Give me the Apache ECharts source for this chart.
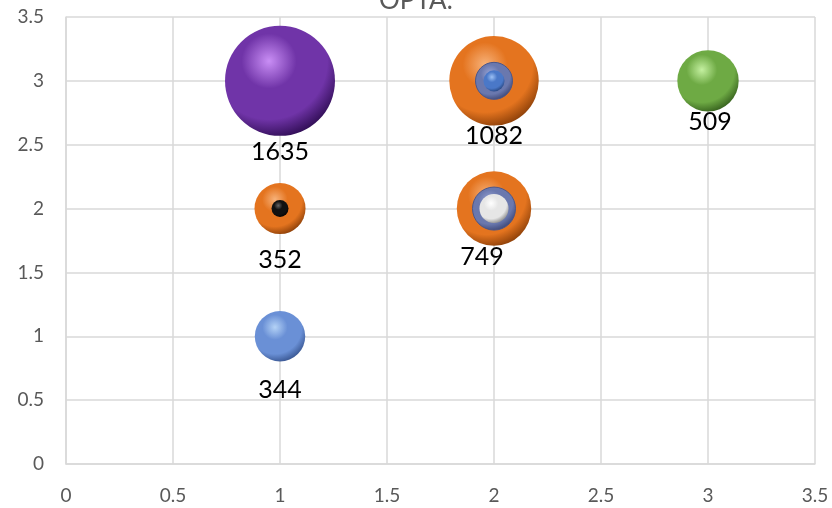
<!DOCTYPE html>
<html>
<head>
<meta charset="utf-8">
<script src="https://cdn.jsdelivr.net/npm/echarts@6/dist/echarts.min.js"></script>
<style>
html, body { margin: 0; padding: 0; background: #fff; }
#main { width: 832px; height: 508px; }
</style>
</head>
<body>
<div id="main"></div>
<script>
var chart = echarts.init(document.getElementById('main'));

// outer bubbles (labelled)
var bigX = [1, 2, 3, 1, 2, 1];
var bigY = [3, 3, 3, 2, 2, 1];
var bigV = [1635, 1082, 509, 352, 749, 344];
// middle ring bubbles
var ringX = [2, 2];
var ringY = [3, 2];
var ringV = [185, 250];
// small core bubbles
var coreX = [2, 2, 1];
var coreY = [3, 2, 2];
var coreV = [60, 114, 39];
var tickVals = [0, 0.5, 1, 1.5, 2, 2.5, 3, 3.5];

var K = 2.72;
function sz(d) { return Math.sqrt(d[2]) * K; }

function ball(hi, mid, lo) {
  return new echarts.graphic.RadialGradient(0.4, 0.32, 0.78, [
    {offset: 0, color: hi},
    {offset: 0.32, color: mid},
    {offset: 0.68, color: mid},
    {offset: 0.92, color: lo},
    {offset: 1, color: lo}
  ]);
}

var bigColors = [
  ball('#c98ef5', '#7034a8', '#2e0c52'),
  ball('#f7b27a', '#e4741f', '#8a3e08'),
  ball('#c4f0a0', '#6eaa44', '#345e1c'),
  ball('#f7b27a', '#e4741f', '#8a3e08'),
  ball('#f7b27a', '#e4741f', '#8a3e08'),
  ball('#b4d2f6', '#6a90d6', '#36538e')
];
// label offsets (below bubble)
var labOff = [[0, 71], [0, 55], [2, 41], [0, 51], [-12, 48], [0, 54]];

var bigData = bigV.map(function (v, i) {
  return {
    value: [bigX[i], bigY[i], v],
    itemStyle: {color: bigColors[i], opacity: 1},
    label: {offset: labOff[i]}
  };
});
var ringData = ringV.map(function (v, i) { return [ringX[i], ringY[i], v]; });
var coreColors = [
  ball('#9cc0f4', '#4a78c8', '#27457f'),
  ball('#ffffff', '#e6e6e6', '#8a8a8a'),
  ball('#666666', '#111111', '#000000')
];
var coreData = coreV.map(function (v, i) {
  return {value: [coreX[i], coreY[i], v], itemStyle: {color: coreColors[i], opacity: 1}};
});

var axisCommon = {
  type: 'value',
  min: 0,
  max: 3.5,
  interval: 0.5,
  axisLine: {show: true, lineStyle: {color: '#d9d9d9', width: 1.5}},
  axisTick: {show: false},
  splitLine: {show: true, lineStyle: {color: '#d9d9d9', width: 1.5}},
  axisLabel: {color: '#595959', fontSize: 19, fontFamily: 'Lato', margin: 22,
    formatter: function (v) { return tickVals.indexOf(v) >= 0 ? String(v) : ''; }}
};

var option = {
  animation: false,
  title: {
    text: 'ОРТА:',
    left: 'center',
    top: -17,
    textStyle: {fontSize: 26, fontWeight: 'normal', color: '#595959', fontFamily: 'Lato'}
  },
  grid: {left: 66, right: 17, top: 17, bottom: 44},
  xAxis: Object.assign({}, axisCommon),
  yAxis: Object.assign({}, axisCommon),
  series: [
    {
      type: 'scatter',
      symbolSize: sz,
      data: bigData,
      itemStyle: {opacity: 1},
      label: {
        show: true,
        position: 'inside',
        formatter: function (p) { return p.value[2]; },
        color: '#000',
        fontSize: 25,
        fontFamily: 'Lato'
      },
      z: 2
    },
    {
      type: 'scatter',
      symbolSize: sz,
      data: ringData,
      itemStyle: {
        opacity: 1,
        color: ball('#9aa6d6', '#6a78ae', '#3a4474'),
        borderColor: '#4c5688',
        borderWidth: 1
      },
      z: 3
    },
    {
      type: 'scatter',
      symbolSize: sz,
      data: coreData,
      itemStyle: {opacity: 1},
      z: 4
    }
  ]
};

chart.setOption(option);
</script>
</body>
</html>
